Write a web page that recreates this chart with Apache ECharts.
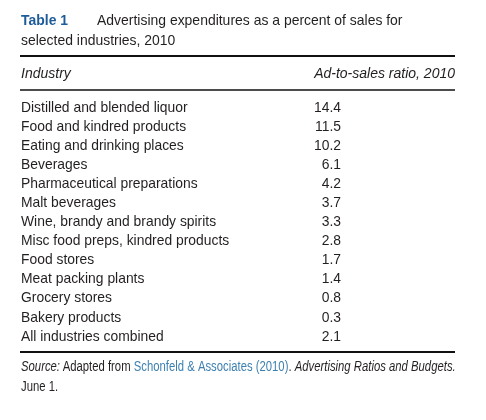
<!DOCTYPE html>
<html><head><meta charset="utf-8">
<script src="https://cdn.jsdelivr.net/npm/echarts@6/dist/echarts.min.js"></script>
<style>html,body{margin:0;padding:0;background:#fff}#c{width:486px;height:420px}</style>
</head><body><div id="c"></div>
<script>
const columns = ['Industry', 'Ad-to-sales ratio, 2010'];
const industries = [
  'Distilled and blended liquor',
  'Food and kindred products',
  'Eating and drinking places',
  'Beverages',
  'Pharmaceutical preparations',
  'Malt beverages',
  'Wine, brandy and brandy spirits',
  'Misc food preps, kindred products',
  'Food stores',
  'Meat packing plants',
  'Grocery stores',
  'Bakery products',
  'All industries combined'
];
const ratios = [14.4, 11.5, 10.2, 6.1, 4.2, 3.7, 3.3, 2.8, 1.7, 1.4, 0.8, 0.3, 2.1];

const FONT = '"Liberation Sans", Arial, sans-serif';
const TXT = '#231f20';
const SX = 0.925;

function cellItem(alignRight) {
  return function (params, api) {
    const p = api.coord([api.value(0), api.value(1)]);
    const txt = alignRight ? Number(api.value(2)).toFixed(1) : industries[api.value(1)];
    return {
      type: 'text',
      x: alignRight ? p[0] - 114 : p[0],
      y: p[1],
      scaleX: SX,
      style: {text: txt, fontFamily: FONT, fontSize: 15, fill: TXT,
        align: alignRight ? 'right' : 'left', verticalAlign: 'middle'}
    };
  };
}

const chart = echarts.init(document.getElementById('c'), null, {renderer: 'canvas'});
chart.setOption({
  backgroundColor: '#fff',
  animation: false,
  textStyle: {fontFamily: FONT},
  grid: {left: 21, right: 31, top: 98, height: 248},
  xAxis: {
    type: 'category', position: 'top', boundaryGap: false,
    data: [
      {value: columns[0], textStyle: {align: 'left'}},
      {value: columns[1], textStyle: {align: 'right'}}
    ],
    axisLine: {show: false}, axisTick: {show: false}, splitLine: {show: false},
    axisLabel: {fontFamily: FONT, fontSize: 14, fontStyle: 'italic', color: TXT, margin: 17, interval: 0}
  },
  yAxis: {
    type: 'category', inverse: true, data: industries,
    axisLine: {show: false}, axisTick: {show: false}, splitLine: {show: false}, axisLabel: {show: false}
  },
  series: [
    {
      type: 'custom', silent: true, renderItem: cellItem(false),
      encode: {x: 0, y: 1},
      data: industries.map(n => [columns[0], n])
    },
    {
      type: 'custom', silent: true, renderItem: cellItem(true),
      encode: {x: 0, y: 1},
      data: ratios.map((v, i) => [columns[1], industries[i], v])
    }
  ],
  graphic: [
    {type: 'line', shape: {x1: 20, y1: 56, x2: 455, y2: 56}, style: {stroke: '#111', lineWidth: 2}},
    {type: 'line', shape: {x1: 20, y1: 90, x2: 455, y2: 90}, style: {stroke: '#111', lineWidth: 1.6}},
    {type: 'line', shape: {x1: 20, y1: 352, x2: 455, y2: 352}, style: {stroke: '#111', lineWidth: 2}},
    {type: 'text', x: 21, y: 11, scaleX: 0.93, style: {
      text: 'Table 1', fontFamily: FONT, fontSize: 15, fontWeight: 'bold', fill: '#1d5b99', lineHeight: 20
    }},
    {type: 'text', x: 97, y: 11, scaleX: 0.93, style: {
      text: 'Advertising expenditures as a percent of sales for', fontFamily: FONT, fontSize: 15, fill: TXT, lineHeight: 20
    }},
    {type: 'text', x: 21, y: 31, scaleX: 0.93, style: {
      text: 'selected industries, 2010', fontFamily: FONT, fontSize: 15, fill: TXT, lineHeight: 20
    }},
    {type: 'text', x: 21, y: 357, scaleX: 0.808, style: {
      text: '{i|Source:} {n|Adapted from }{l|Schonfeld & Associates (2010)}{n|. }{i|Advertising Ratios and Budgets.}\n{n|June 1.}',
      rich: {
        i: {fontFamily: FONT, fontSize: 14, fontStyle: 'italic', fill: TXT, lineHeight: 20},
        n: {fontFamily: FONT, fontSize: 14, fill: TXT, lineHeight: 20},
        l: {fontFamily: FONT, fontSize: 14, fill: '#3d80b0', lineHeight: 20}
      }
    }}
  ]
});
</script></body></html>
